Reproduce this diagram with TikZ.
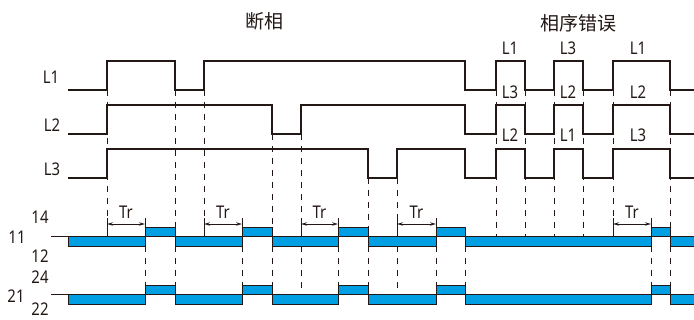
\documentclass[tikz,border=0pt]{standalone}
\usepackage{fontspec}
\setmainfont{Noto Sans}[FakeStretch=0.85]
\newfontfamily\cjk{Noto Sans CJK SC}
\usepackage{xcolor}
\usetikzlibrary{arrows.meta}
\definecolor{relayblue}{RGB}{0,159,227}
\definecolor{ink}{RGB}{35,24,21}
\tikzset{
  sig/.style={ink, line width=1.5pt},
  guide/.style={ink, line width=0.8pt, dash pattern=on 6pt off 6pt},
  contact/.style={fill=relayblue, draw=ink, line width=0.8pt},
  tick/.style={ink, line width=0.8pt},
  lbl/.style={font=\fontsize{17.5}{17.5}\selectfont, text=ink, inner sep=0pt},
  title/.style={font=\cjk\fontsize{19}{19}\selectfont, text=ink, inner sep=0pt}
}

\begin{document}
\begin{tikzpicture}[x=1pt,y=-1pt]
\useasboundingbox (0,0) rectangle (694,320);
% headings
\node[title] (duanxiang) at (264,21) {断相};
\node[title] (xiangxu) at (578,23) {相序错误};
% phase names
\node[lbl] (phA) at (51,77) {L1};
\node[lbl] (phB) at (52,125) {L2};
\node[lbl] (phC) at (52,169) {L3};
\node[lbl] (swA1) at (510,48) {L1};
\node[lbl] (swA2) at (568,48) {L3};
\node[lbl] (swA3) at (638,48) {L1};
\node[lbl] (swB1) at (510,92) {L3};
\node[lbl] (swB2) at (568,92) {L2};
\node[lbl] (swB3) at (638,92) {L2};
\node[lbl] (swC1) at (510,135) {L2};
\node[lbl] (swC2) at (568,135) {L1};
\node[lbl] (swC3) at (638,135) {L3};
% contact names
\node[lbl] (c14) at (40,217) {14};
\node[lbl] (c11) at (17,237) {11};
\node[lbl] (c12) at (40,256) {12};
\node[lbl] (c24) at (40,277) {24};
\node[lbl] (c21) at (16,296) {21};
\node[lbl] (c22) at (40,309) {22};
% dashed guides
\foreach \x/\ya/\yb in {107/90/218, 175/90/236, 204/90/218, 272/134/236, 301/134/218,
    368/178/236, 397/178/218, 496/90/236, 525/90/236, 554/90/236, 583/90/236,
    613/90/218, 670/90/236}
  \draw[guide] (\x,\ya) -- (\x,\yb);
\foreach \x/\yb in {145/285, 175/285, 242/285, 272/285, 301/294, 338/285, 368/285,
    397/294, 436/285, 465/285, 651/285, 670/285}
  \draw[guide] (\x,246) -- (\x,\yb);
% supply phases
\draw[sig] (68,90) -- (107,90) |- (175,61) |- (204,90) |- (465,61) |- (496,90) |- (525,61)
  |- (554,90) |- (583,61) |- (613,90) |- (670,61) |- (694,90);
\draw[sig] (68,134) -- (107,134) |- (272,105) |- (301,134) |- (465,105) |- (496,134) |- (525,105)
  |- (554,134) |- (583,105) |- (613,134) |- (670,105) |- (694,134);
\draw[sig] (68,178) -- (107,178) |- (368,149) |- (397,178) |- (465,149) |- (496,178) |- (525,149)
  |- (554,178) |- (583,149) |- (613,178) |- (670,149) |- (694,178);
% relay contacts
\foreach \y in {236,294} {
  \draw[tick] (51,\y) -- (68,\y);
  \foreach \a/\b in {68/145, 175/242, 272/338, 368/436, 465/651, 670/694}
    \draw[contact] (\a,\y) rectangle (\b,\y+10);
  \foreach \a/\b in {145/175, 242/272, 338/368, 436/465, 651/670}
    \draw[contact] (\a,\y) rectangle (\b,\y-9);
}
% delay times
\foreach \a/\b in {107/145, 204/242, 301/338, 397/436, 613/651} {
  \draw[tick] (\a,218) -- (\a,236);
  \draw[tick] (\b,218) -- (\b,227);
  \draw[ink, line width=0.6pt, {Stealth[open,length=6pt,width=3.5pt]}-{Stealth[open,length=6pt,width=3.5pt]}] (\a,224) -- (\b,224);
  \node[lbl] (tr\a) at ({(\a+\b)/2},212) {Tr};
}
\end{tikzpicture}
\end{document}
